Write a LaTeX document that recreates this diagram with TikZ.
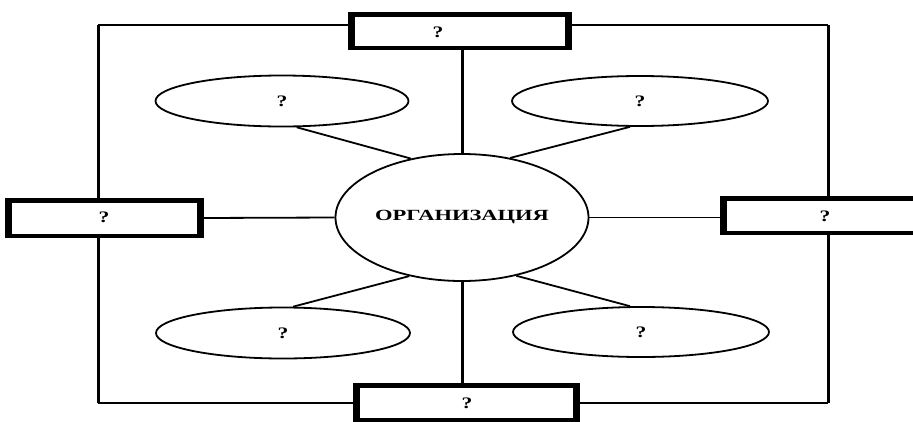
\documentclass[tikz,border=0pt]{standalone}
\usepackage{fontspec}
\setmainfont{Liberation Serif}
\usetikzlibrary{shapes.geometric}
\newcommand\qmark{\scalebox{1.35}[1]{\bfseries ?}}
\begin{document}
\begin{tikzpicture}[x=1pt,y=-1pt,
  oval/.style={ellipse,draw,line width=1.8pt,fill=white,inner sep=0pt,font=\fontsize{16}{16}\selectfont},
  hl/.style={line width=1.8pt},
  vl/.style={line width=3pt},
  box/.style={rectangle,draw,line width=4.5pt,fill=white,inner sep=0pt},
  boxside/.style={line width=7pt},
  lbl/.style={font=\fontsize{16}{16}\selectfont,inner sep=0pt}]
\useasboundingbox (0,0) rectangle (913,421);
% outer frame
\coordinate (f1) at (98,25);
\coordinate (f2) at (828,25);
\coordinate (f3) at (828,403);
\coordinate (f4) at (98,403);
\draw[hl] (f1) -- (f2);
\draw[hl] (f4) -- (f3);
\draw[vl] (f1) -- (f4);
\draw[vl] (f2) -- (f3);
% boxes
\node[box,minimum width=215.5pt,minimum height=33.5pt] (tb) at (460,31) {};
\node[box,minimum width=190.5pt,minimum height=35.5pt] (lb) at (104.5,218) {};
\node[box,minimum width=201.5pt,minimum height=34.5pt] (rb) at (825,215.5) {};
\node[box,minimum width=218.5pt,minimum height=34.5pt] (bb) at (466.5,402.5) {};
\foreach \b in {tb,lb,rb,bb}{
  \draw[boxside] ([xshift=1.2pt]\b.north west) -- ([xshift=1.2pt]\b.south west);
  \draw[boxside] ([xshift=-1.2pt]\b.north east) -- ([xshift=-1.2pt]\b.south east);
}
\node[lbl] (tq) at (438,32) {\qmark};
\node[lbl] (lq) at (104,217) {\qmark};
\node[lbl] (rq) at (825,216) {\qmark};
\node[lbl] (bq) at (467,403) {\qmark};
% ellipses
\node[oval,minimum width=253pt,minimum height=51pt] (tl) at (282,101) {\qmark};
\node[oval,minimum width=256pt,minimum height=50pt] (tr) at (640,101) {\qmark};
\node[oval,minimum width=254pt,minimum height=51pt] (bl) at (283,333) {\qmark};
\node[oval,minimum width=256pt,minimum height=50pt] (br) at (641,332) {\qmark};
\node[oval,minimum width=253pt,minimum height=127pt,font=\fontsize{15.5}{15.5}\selectfont] (org) at (462,217.5)
  {\scalebox{1.45}[1]{\bfseries ОРГАНИЗАЦИЯ}};
% connectors
\draw[vl] (org.north) -- (org.north |- tb.south);
\draw[vl] (org.south) -- (org.south |- bb.north);
\draw[hl] (lb.east) -- (org.west);
\draw[hl] (org.east) -- (org.east -| rb.west);
\draw[hl] (tl.-61) -- (org.131);
\draw[hl] (tr.249) -- (org.51);
\draw[hl] (bl.69) -- (org.228);
\draw[hl] (br.113) -- (org.-47);
\end{tikzpicture}
\end{document}
